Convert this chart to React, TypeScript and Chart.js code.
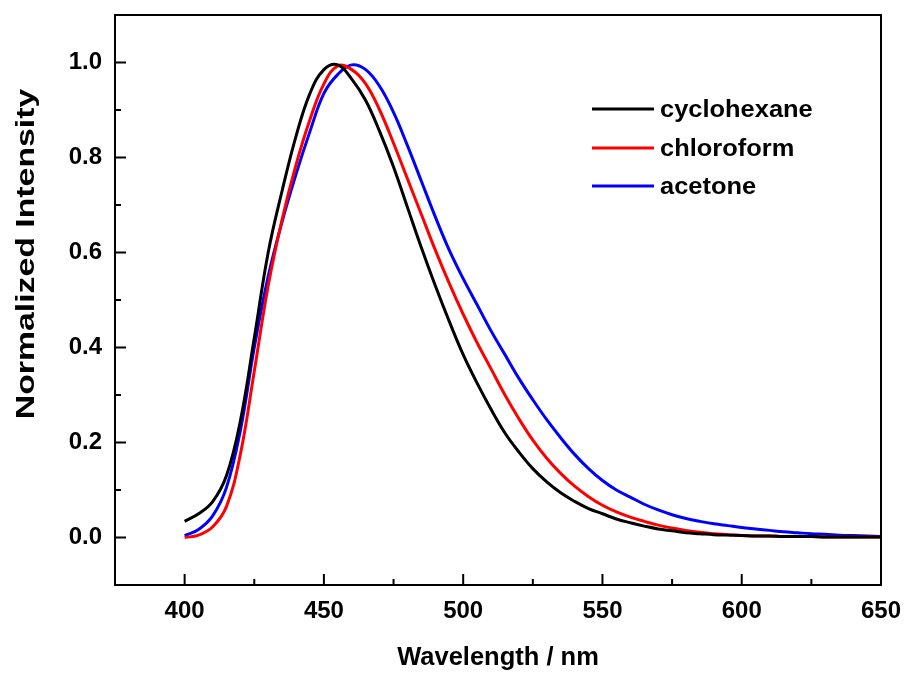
import React, { useEffect, useRef } from "react";
import { Chart, registerables } from "chart.js";

Chart.register(...registerables);

// ---- data ----
const wavelengths = [
  400, 405, 410, 415, 420, 425, 430, 435, 440, 445, 450, 455, 460, 465, 470, 475, 480, 485, 490, 495,
  500, 505, 510, 515, 520, 525, 530, 535, 540, 545, 550, 555, 560, 565, 570, 575, 580, 585, 590, 595,
  600, 605, 610, 615, 620, 625, 630, 635, 640, 645, 650,
];

const cyclohexane = [
  0.034, 0.05, 0.075, 0.13, 0.245, 0.42, 0.6, 0.73, 0.845, 0.935, 0.985, 0.995, 0.965, 0.92, 0.855, 0.78, 0.695, 0.61, 0.53, 0.455,
  0.385, 0.325, 0.27, 0.22, 0.18, 0.145, 0.117, 0.094, 0.076, 0.061, 0.05, 0.039, 0.031, 0.024, 0.018, 0.014, 0.01, 0.008, 0.006, 0.005,
  0.004, 0.003, 0.003, 0.002, 0.002, 0.002, 0.001, 0.001, 0.001, 0.001, 0.001,
];

const chloroform = [
  0.0, 0.005, 0.022, 0.065, 0.175, 0.35, 0.53, 0.67, 0.785, 0.88, 0.955, 0.993, 0.985, 0.955, 0.9, 0.83, 0.755, 0.68, 0.605, 0.535,
  0.47, 0.41, 0.355, 0.3, 0.25, 0.205, 0.167, 0.135, 0.108, 0.086, 0.068, 0.054, 0.043, 0.034, 0.026, 0.02, 0.015, 0.011, 0.008, 0.006,
  0.004, 0.003, 0.003, 0.002, 0.002, 0.002, 0.001, 0.001, 0.001, 0.001, 0.001,
];

const acetone = [
  0.004, 0.017, 0.045, 0.105, 0.225, 0.4, 0.55, 0.665, 0.765, 0.855, 0.935, 0.975, 0.995, 0.985, 0.95, 0.895, 0.825, 0.75, 0.675, 0.605,
  0.545, 0.49, 0.435, 0.385, 0.335, 0.29, 0.248, 0.21, 0.175, 0.145, 0.12, 0.1, 0.085, 0.07, 0.058, 0.048, 0.04, 0.034, 0.029, 0.025,
  0.021, 0.018, 0.015, 0.012, 0.01, 0.008, 0.007, 0.005, 0.004, 0.003, 0.002,
];

const seriesNames = ["cyclohexane", "chloroform", "acetone"];
const seriesColors = ["#000000", "#ff0000", "#0000ff"];

const xMajorTicks = [400, 450, 500, 550, 600, 650];
const xMinorTicks = [425, 475, 525, 575, 625];
const yMajorTicks = [0.0, 0.2, 0.4, 0.6, 0.8, 1.0];
const yMinorTicks = [0.1, 0.3, 0.5, 0.7, 0.9];

const xTitle = "Wavelength / nm";
const yTitle = "Normalized Intensity";

const FONT = "'Liberation Sans', Arial, Helvetica, sans-serif";

const framePlugin = {
  id: "frameTicks",
  afterDraw(chart: any) {
    const { ctx, chartArea } = chart;
    const { left, right, top, bottom } = chartArea;
    const xs = chart.scales.x;
    const ys = chart.scales.y;
    ctx.save();
    ctx.strokeStyle = "#000";
    ctx.lineWidth = 2;
    ctx.beginPath();
    ctx.rect(left, top, right - left, bottom - top);
    ctx.stroke();
    ctx.beginPath();
    xMajorTicks.forEach((v) => {
      const px = xs.getPixelForValue(v);
      ctx.moveTo(px, bottom);
      ctx.lineTo(px, bottom - 11);
    });
    xMinorTicks.forEach((v) => {
      const px = xs.getPixelForValue(v);
      ctx.moveTo(px, bottom);
      ctx.lineTo(px, bottom - 6);
    });
    yMajorTicks.forEach((v) => {
      const py = ys.getPixelForValue(v);
      ctx.moveTo(left, py);
      ctx.lineTo(left + 11, py);
    });
    yMinorTicks.forEach((v) => {
      const py = ys.getPixelForValue(v);
      ctx.moveTo(left, py);
      ctx.lineTo(left + 6, py);
    });
    ctx.stroke();

    // y axis title (stretched along its length like the original)
    ctx.save();
    ctx.fillStyle = "#000";
    ctx.font = `bold 26px ${FONT}`;
    ctx.textAlign = "center";
    ctx.textBaseline = "middle";
    ctx.translate(27, 254);
    ctx.rotate(-Math.PI / 2);
    ctx.scale(1.3, 1);
    ctx.fillText(yTitle, 0, 0);
    ctx.restore();

    // legend
    const rowY = [109, 148, 186];
    ctx.font = `bold 24px ${FONT}`;
    ctx.textBaseline = "middle";
    ctx.textAlign = "left";
    chart.data.datasets.forEach((ds: any, i: number) => {
      ctx.strokeStyle = ds.borderColor;
      ctx.lineWidth = 3;
      ctx.beginPath();
      ctx.moveTo(592, rowY[i]);
      ctx.lineTo(654, rowY[i]);
      ctx.stroke();
      ctx.fillStyle = "#000";
      ctx.save();
      ctx.translate(660, rowY[i] + 1);
      ctx.scale(1.06, 1);
      ctx.fillText(ds.label, 0, 0);
      ctx.restore();
    });
    ctx.restore();
  },
};

export default function App() {
  const ref = useRef<HTMLCanvasElement | null>(null);

  useEffect(() => {
    document.body.style.margin = "0";
    const canvas = ref.current;
    if (!canvas) return;
    const seriesData = [cyclohexane, chloroform, acetone];
    const chart = new Chart(canvas, {
      type: "line",
      data: {
        datasets: seriesData.map((arr, i) => ({
          label: seriesNames[i],
          data: wavelengths.map((w, j) => ({ x: w, y: arr[j] })),
          borderColor: seriesColors[i],
          backgroundColor: seriesColors[i],
          borderWidth: 3,
          pointRadius: 0,
          tension: 0.4,
          fill: false,
        })),
      },
      options: {
        animation: false,
        responsive: false,
        maintainAspectRatio: false,
        layout: { padding: { left: 0, right: 26, top: 15, bottom: 0 } },
        plugins: {
          legend: { display: false },
          tooltip: { enabled: false },
        },
        scales: {
          x: {
            type: "linear",
            min: 375,
            max: 650,
            grid: { display: false, drawTicks: false },
            border: { display: false },
            afterBuildTicks: (scale: any) => {
              scale.ticks = xMajorTicks.map((v) => ({ value: v }));
            },
            afterFit: (scale: any) => {
              scale.height = 90;
              scale.paddingLeft = 0;
              scale.paddingRight = 0;
              scale.paddingTop = 0;
              scale.paddingBottom = 0;
            },
            ticks: {
              color: "#000",
              padding: 12,
              maxRotation: 0,
              autoSkip: false,
              font: { family: FONT, size: 24, weight: "bold" },
              callback: (v: any) => String(v),
            },
            title: {
              display: true,
              text: xTitle,
              color: "#000",
              padding: { top: 0, bottom: 2 },
              font: { family: FONT, size: 25.5, weight: "bold" },
            },
          },
          y: {
            type: "linear",
            min: -0.1,
            max: 1.1,
            grid: { display: false, drawTicks: false },
            border: { display: false },
            afterBuildTicks: (scale: any) => {
              scale.ticks = yMajorTicks.map((v) => ({ value: v }));
            },
            afterFit: (scale: any) => {
              scale.width = 115;
              scale.paddingLeft = 0;
              scale.paddingRight = 0;
              scale.paddingTop = 0;
              scale.paddingBottom = 0;
            },
            ticks: {
              color: "#000",
              padding: 13,
              autoSkip: false,
              font: { family: FONT, size: 24, weight: "bold" },
              callback: (v: any) => Number(v).toFixed(1),
            },
            title: { display: false },
          },
        },
      },
      plugins: [framePlugin],
    });
    return () => chart.destroy();
  }, []);

  return (
    <div style={{ width: 907, height: 675, background: "#fff" }}>
      <canvas ref={ref} width={907} height={675} style={{ display: "block", width: 907, height: 675 }} />
    </div>
  );
}
